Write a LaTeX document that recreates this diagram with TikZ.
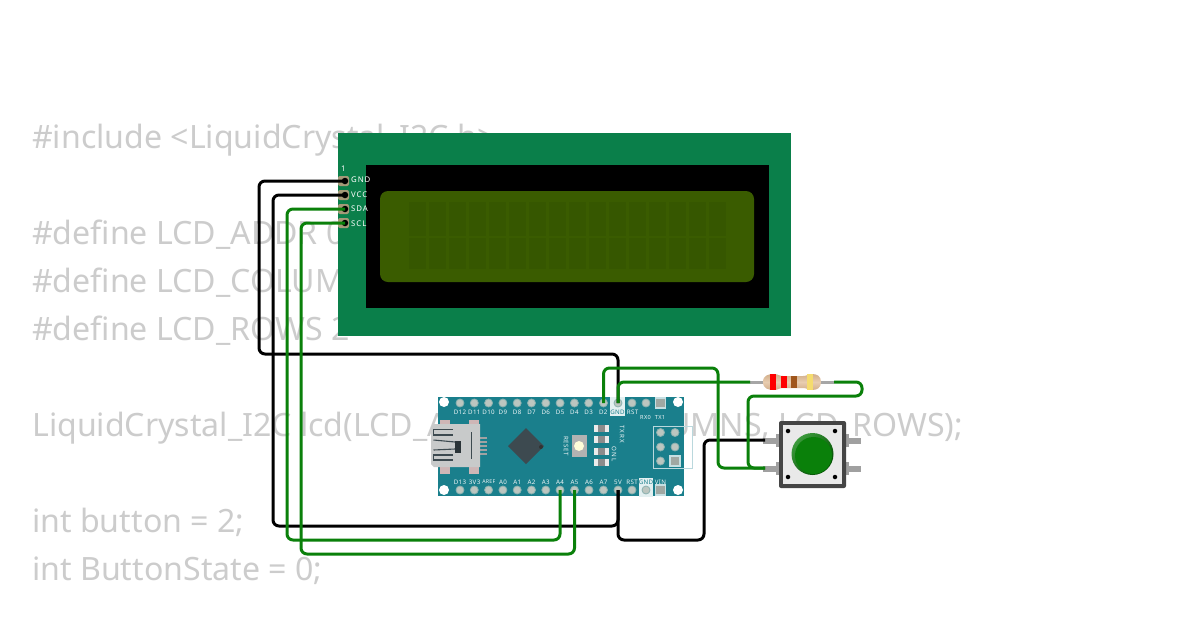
\documentclass[tikz,border=0pt]{standalone}
\usepackage{fontspec}
\setmainfont{Noto Sans}
\newfontfamily\pinfont[LetterSpace=12]{Noto Sans}
\newfontfamily\nanofont[LetterSpace=6]{Noto Sans}
\definecolor{codegrey}{HTML}{CCCCCC}
\definecolor{pcbgreen}{HTML}{0A7F4A}
\definecolor{lcdback}{HTML}{3A5C00}
\definecolor{lcdchar}{HTML}{365700}
\definecolor{nanoteal}{HTML}{1A7F8C}
\definecolor{wiregreen}{HTML}{0A800A}
\definecolor{holegrey}{HTML}{BCC6C0}
\definecolor{pinring}{HTML}{A49A78}
\definecolor{chipgrey}{HTML}{3D4A50}
\definecolor{usbgrey}{HTML}{C8CACA}
\definecolor{btndark}{HTML}{454545}
\definecolor{btnface}{HTML}{E9E9E9}
\definecolor{legcol}{HTML}{A0A0A0}
\definecolor{restan}{HTML}{E8CDB0}
\definecolor{resshade}{HTML}{D2AE8A}
\definecolor{resgold}{HTML}{F5DC6E}
\definecolor{resbrown}{HTML}{A0561C}
\definecolor{capdark}{HTML}{004D00}
\definecolor{caplight}{HTML}{3C9A3C}
\tikzset{
  x=1pt,y=-1pt,
  codeline/.style={anchor=base west,inner sep=0pt,text=codegrey,font=\fontsize{32.1}{38}\selectfont},
  lcdpad/.style={fill=pinring,rounded corners=2pt},
  lcdpin/.style={circle,fill=black,minimum size=6.5pt,inner sep=0pt},
  lcdlabel/.style={anchor=west,inner sep=0pt,text=white,font=\pinfont\fontsize{7.8}{8}\selectfont},
  hole/.style={circle,fill=holegrey,draw=holegrey!70!nanoteal,line width=0.8pt,minimum size=8pt,inner sep=0pt},
  squarehole/.style={rectangle,fill=holegrey!85!black,draw=white!75!nanoteal,line width=1.2pt,minimum size=10pt,inner sep=0pt},
  mount/.style={circle,fill=white,minimum size=10pt,inner sep=0pt},
  nanolabel/.style={inner sep=0pt,text=white!92!nanoteal,font=\nanofont\bfseries\fontsize{6.2}{7}\selectfont},
  nanodark/.style={nanolabel,text=nanoteal},
  wireblack/.style={draw=black,line width=3pt,rounded corners=6pt},
  wiregreenline/.style={draw=wiregreen,line width=3pt,rounded corners=6pt},
  ledend/.style={fill=white!92!black},
  ledmid/.style={fill=black!45},
  leg/.style={fill=legcol,draw=none},
  btndot/.style={circle,fill=black,minimum size=4.5pt,inner sep=0pt},
  lcdcell/.style={fill=lcdchar,draw=none},
}
\begin{document}
\begin{tikzpicture}
\useasboundingbox (0,0) rectangle (1200,630);
\fill[white] (0,0) rectangle (1200,630);
% code text behind
\node[codeline] (c1) at (32,148) {\#include <LiquidCrystal\_I2C.h>};
\node[codeline] (c2) at (32,244) {\#define LCD\_ADDR 0x27};
\node[codeline] (c3) at (32,292) {\#define LCD\_COLUMNS 16};
\node[codeline] (c4) at (32,340) {\#define LCD\_ROWS 2};
\node[codeline] (c5) at (32,436) {LiquidCrystal\_I2C lcd(LCD\_ADDR, LCD\_COLUMNS, LCD\_ROWS);};
\node[codeline] (c6) at (32,532) {int button = 2;};
\node[codeline] (c7) at (32,580) {int ButtonState = 0;};
% LCD
\fill[pcbgreen] (338,133) rectangle (791,336);
\fill[black] (366,165) rectangle (769,308);
\fill[lcdback,rounded corners=8pt] (380,191) rectangle (754,282);
\foreach \i in {0,...,15}{
  \fill[lcdcell] ({408.5+20*\i},202) rectangle ({425.5+20*\i},236);
  \fill[lcdcell] ({408.5+20*\i},238) rectangle ({425.5+20*\i},269);
}
\node[lcdlabel] (lcdone) at (341,169) {1};
\foreach \py in {181,195,209,223}{
  \fill[lcdpad] (338,{\py-5}) rectangle (349,{\py+5});
}
\node[lcdpin] (lcdgnd) at (345,181) {};
\node[lcdpin] (lcdvcc) at (345,195) {};
\node[lcdpin] (lcdsda) at (345,209) {};
\node[lcdpin] (lcdscl) at (345,223) {};
\node[lcdlabel] (lgnd) at (351,180) {GND};
\node[lcdlabel] (lvcc) at (351,194.5) {VCC};
\node[lcdlabel] (lsda) at (351,209) {SDA};
\node[lcdlabel] (lscl) at (351,224) {SCL};
% Nano
\fill[nanoteal] (438,397) rectangle (684,496);
\fill[white!88!nanoteal] (610,397) rectangle (625,416);
\fill[white!88!nanoteal] (639,478) rectangle (653,497);
\foreach \n/\px in {a/460,b/474.3,c/488.6,d/502.9,e/517.2,f/531.5,g/545.8,h/560.1,i/574.4,j/588.7}{
  \node[hole] (top\n) at (\px,403) {};
}
\node[hole] (nanod2) at (603.5,403) {};
\node[hole] (nanotopgnd) at (618,403) {};
\node[hole] (toprst) at (632,403) {};
\node[hole] (toprx) at (646,403) {};
\node[squarehole] (toptx) at (660.5,403) {};
\foreach \n/\px in {a/460,b/474.3,c/488.6,d/502.9,e/517.2,f/531.5,g/545.8}{
  \node[hole] (bot\n) at (\px,490) {};
}
\node[hole] (nanoa4) at (560,490) {};
\node[hole] (nanoa5) at (574.5,490) {};
\node[hole] (bota6) at (589,490) {};
\node[hole] (bota7) at (603.5,490) {};
\node[hole] (nano5v) at (618,490) {};
\node[hole] (botrst) at (632,490) {};
\node[hole] (botgnd) at (646,490) {};
\node[squarehole] (botvin) at (660.5,490) {};
\node[mount] (m1) at (444,402) {};
\node[mount] (m2) at (678,402) {};
\node[mount] (m3) at (444,490) {};
\node[mount] (m4) at (678,490) {};
\foreach \t/\px in {D12/460,D11/474.3,D10/488.6,D9/502.9,D8/517.2,D7/531.5,D6/545.8,D5/560.1,D4/574.4,D3/588.7,D2/603.3,RST/632.5}{
  \node[nanolabel] at (\px,412) {\t};
}
\node[nanodark] (topgndl) at (617.5,412) {GND};
\node[nanolabel,font=\nanofont\bfseries\fontsize{5.6}{7}\selectfont] at (645.5,417) {RX0};
\node[nanolabel,font=\nanofont\bfseries\fontsize{5.6}{7}\selectfont] at (660,417) {TX1};
\foreach \t/\px in {D13/460,3V3/474.6,A0/503,A1/517.2,A2/531.5,A3/545.8,A4/560,A5/574.5,A6/589,A7/603.5,5V/618,RST/632,VIN/660.5}{
  \node[nanolabel] at (\px,482) {\t};
}
\node[nanolabel,font=\nanofont\bfseries\fontsize{5.2}{7}\selectfont] at (488.8,482) {AREF};
\node[nanodark] (botgndl) at (646,482) {GND};
% USB
\fill[usbgrey!90!red] (440,420) rectangle (450,474);
\fill[usbgrey!90!red] (469,420) rectangle (479,474);
\foreach \py in {437,441,445,449,453}{
  \fill[usbgrey!80!black] (480,\py) rectangle (487,{\py+2.4});
}
\fill[usbgrey] (431,427) -- (434,424) -- (480,424) -- (480,467) -- (434,467) -- (431,464) -- cycle;
\draw[chipgrey,line width=1.1pt] (453,429.5) -- (433.5,429.5) -- (433.5,435) -- (453,435);
\draw[chipgrey,line width=1.1pt] (453,455) -- (433.5,455) -- (433.5,460) -- (453,460);
\draw[chipgrey,line width=1.1pt] (433.5,440) -- (455,442);
\draw[chipgrey,line width=1.1pt] (433.5,450) -- (455,449);
\fill[chipgrey!70!black] (455,441) rectangle (461,453);
\draw[chipgrey,line width=1.2pt] (471.7,432) -- (471.7,459);
% chip
\fill[chipgrey] (526,428) -- (544,446) -- (526,464) -- (508,446) -- cycle;
\fill[black!80] (541,447) circle (2pt);
% reset
\fill[black!30] (572,435) rectangle (587,457);
\fill[yellow!15!white] (579,446) circle (5pt);
\node[nanolabel,rotate=-90] (lreset) at (566,446) {RESET};
% LEDs
\foreach \py in {428,439,451,462}{
  \fill[ledend] (594,{\py-3.5}) rectangle (609,{\py+3.5});
  \fill[ledmid] (598,{\py-3.5}) rectangle (605,{\py+3.5});
}
\node[nanolabel,rotate=-90] (ltxrx) at (622,434) {TX RX};
\node[nanolabel,rotate=-90] (lonl) at (614,454.5) {ON L};
% ICSP
\draw[white!70!nanoteal,line width=0.8pt] (653.5,426) rectangle (692,468);
\node[hole] (i1) at (660.5,432.5) {};
\node[hole] (i2) at (675,432.5) {};
\node[hole] (i3) at (660.5,447) {};
\node[hole] (i4) at (675,447) {};
\node[hole] (i5) at (660.5,461) {};
\node[squarehole] (i6) at (675,461) {};
% Resistor
\coordinate (resleft) at (750,382);
\coordinate (resright) at (834,382);
\draw[black!35,line width=3pt] (resleft) -- (resright);
\shade[top color=resshade,bottom color=resshade,middle color=restan] (763,382) .. controls (763,375) and (769,374) .. (774,374) .. controls (778,374) and (779,376) .. (783,376) -- (803,376) .. controls (807,376) and (808,374) .. (812,374) .. controls (817,374) and (821,376) .. (821,382) .. controls (821,388) and (817,390) .. (812,390) .. controls (808,390) and (807,388) .. (803,388) -- (783,388) .. controls (779,388) and (778,390) .. (774,390) .. controls (769,390) and (763,389) .. (763,382) -- cycle;
\fill[red] (770,374) rectangle (775.5,390);
\fill[red] (781,376) rectangle (787,388);
\fill[resbrown] (791,376) rectangle (797,388);
\fill[resgold] (807,374.3) rectangle (812.5,389.7);
% Pushbutton
\fill[leg] (763,437.5) rectangle (780,443.5);
\fill[leg] (763,465.5) rectangle (780,471.5);
\fill[leg] (845,437.5) rectangle (861,443.5);
\fill[leg] (845,465.5) rectangle (861,471.5);
\fill[legcol] (776,434) rectangle (781,447);
\fill[legcol] (776,462) rectangle (781,475);
\fill[legcol] (844,434) rectangle (849,447);
\fill[legcol] (844,462) rectangle (849,475);
\fill[btndark,rounded corners=2pt] (779,421) rectangle (846,488);
\fill[btnface] (783,425) rectangle (842,484);
\node[btndot] (s1) at (788,431) {};
\node[btndot] (s2) at (835,431) {};
\node[btndot] (s3) at (788,477) {};
\node[btndot] (s4) at (835,477) {};
\shade[top color=caplight,bottom color=capdark,shading angle=45] (812.5,454) circle (21pt);
\fill[wiregreen] (813.5,455.5) circle (18.5pt);
\coordinate (btnleft) at (765,440);
\coordinate (btnright) at (765,468);
% Wires
\draw[wireblack] (lcdgnd.center) -| (259,354) -| (nanotopgnd.center);
\draw[wireblack] (lcdvcc.center) -| (273,526) -| (nano5v.center);
\draw[wiregreenline] (lcdsda.center) -| (287,540) -| (nanoa4.center);
\draw[wiregreenline] (lcdscl.center) -| (301,554) -| (nanoa5.center);
\draw[wireblack] (nano5v.center) |- (704,540) |- (btnleft);
\draw[wiregreenline] (nanod2.center) |- (718,368) |- (btnright);
\draw[wiregreenline] (nanotopgnd.center) |- (resleft);
\draw[wiregreenline] (resright) -- (862,382) -- (862,396) -- (748,396) |- (btnright);
\end{tikzpicture}
\end{document}
